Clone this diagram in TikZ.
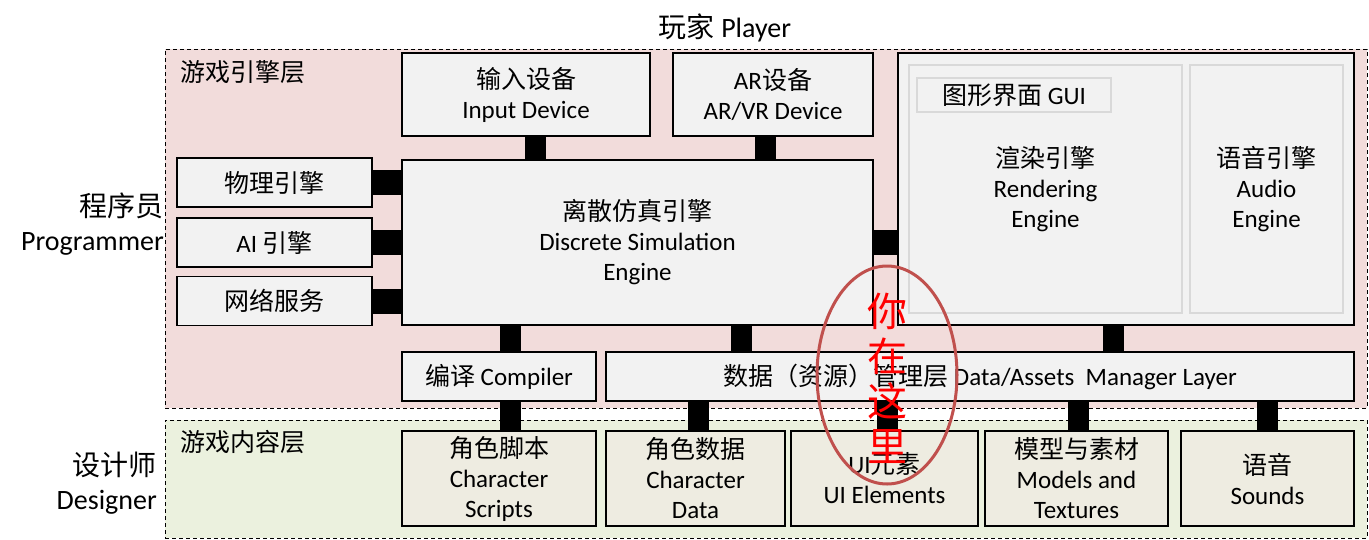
\documentclass[tikz,border=0pt]{standalone}
\usepackage{fontspec}
\setmainfont{Carlito}
\newfontfamily\zhfont{Noto Sans CJK SC}
\newcommand{\zh}[1]{{\zhfont #1}}
\usetikzlibrary{shapes.geometric}
\definecolor{enginebg}{HTML}{F2DCDB}
\definecolor{contentbg}{HTML}{EBF1DE}
\definecolor{boxfill}{HTML}{F2F2F2}
\definecolor{assetfill}{HTML}{EEECE1}
\definecolor{softline}{HTML}{D9D9D9}
\definecolor{markred}{HTML}{C0504D}

\begin{document}
\begin{tikzpicture}[
    x=1pt, y=-1pt,
    every node/.style={font=\fontsize{25}{30}\selectfont, align=center, inner sep=0pt},
    layer/.style={draw, dash pattern=on 4pt off 3pt, line width=0.8pt},
    box/.style={draw, line width=1.2pt, fill=boxfill},
    asset/.style={box, fill=assetfill},
    soft/.style={draw=softline, line width=1.2pt, fill=boxfill},
    link/.style={line width=21pt},
    sidelink/.style={line width=25pt},
    side/.style={font=\fontsize{28}{34}\selectfont, align=right, anchor=east}
  ]
  \useasboundingbox (0,0) rectangle (1369,539);
  % layers
  \node[layer, fill=enginebg, minimum width=1202, minimum height=359] (engine) at (766,228.5) {};
  \node[layer, fill=contentbg, minimum width=1202, minimum height=118] (content) at (766,479) {};
  \node[anchor=west] (enginelbl) at (180,72) {\zh{游戏引擎层}};
  \node[anchor=west] (contentlbl) at (180,442) {\zh{游戏内容层}};
  \node[font=\fontsize{28}{34}\selectfont] (player) at (725,28) {\zh{玩家} Player};
  \node[side] (prog) at (164,224) {\zh{程序员}\\Programmer};
  \node[side] (design) at (157,483) {\zh{设计师}\\Designer};

  % engine boxes
  \node[box, minimum width=248, minimum height=83] (input) at (526,94.5) {\zh{输入设备}\\Input Device};
  \node[box, minimum width=200, minimum height=83] (arvr) at (773,94.5) {AR\zh{设备}\\AR/VR Device};
  \node[box, minimum width=471, minimum height=165] (sim) at (637.5,242.5) {\zh{离散仿真引擎}\\Discrete Simulation\\Engine};
  \node[box, minimum width=456, minimum height=272] (media) at (1126,189) {};
  \node[soft, minimum width=273, minimum height=248] (render) at (1045.5,189) {\zh{渲染引擎}\\Rendering\\Engine};
  \node[soft, minimum width=153, minimum height=248] (audio) at (1266.5,189) {\zh{语音引擎}\\Audio\\Engine};
  \node[soft, minimum width=194, minimum height=34] (gui) at (1014,95) {\zh{图形界面} GUI};
  \node[box, minimum width=194, minimum height=49] (compiler) at (499,376.5) {\zh{编译} Compiler};
  \node[box, minimum width=748, minimum height=49] (assets) at (980,376.5) {\zh{数据（资源）管理层} Data/Assets\ \ Manager Layer};

  \foreach \name/\y/\txt in {phys/182.5/\zh{物理引擎}, ai/242.5/AI \zh{引擎}, net/301/\zh{网络服务}}
    {
      \node[box, minimum width=195, minimum height=49] (\name) at (274.5,\y) {\txt};
      \draw[sidelink] (\name.east) -- (\name.east -| sim.west);
    };
  \draw[sidelink] (sim.east) -- (sim.east -| media.west);

  % content boxes
  \foreach \name/\x/\w/\txt in {scripts/499/194/{\zh{角色脚本}\\Character\\Scripts},
      chardata/695.5/179/{\zh{角色数据}\\Character\\Data},
      ui/884.5/187/{UI\zh{元素}\\UI Elements},
      models/1076.5/183/{\zh{模型与素材}\\Models and\\Textures},
      sounds/1267.5/173/{\zh{语音}\\Sounds}}
    {
      \node[asset, minimum width=\w, minimum height=95] (\name) at (\x,478.5) {\txt};
    };

  % vertical links
  \foreach \from/\to/\dx in {input/sim/9, arvr/sim/-8, sim/compiler/-127, sim/assets/103.5,
      media/assets/-13, compiler/scripts/11.5, assets/chardata/-281.5, assets/ui/-93,
      assets/models/98, assets/sounds/287}
    {
      \draw[link] (\from.south) ++(\dx,0) coordinate (p) -- (p |- \to.north);
    };

  % you are here
  \node[draw=markred, line width=3pt, ellipse, minimum width=140, minimum height=218] (here) at (887,375) {};
  \node[text=red, font=\zhfont\fontsize{40}{45}\selectfont] (heretxt) at (887,378) {你\\在\\这\\里};
\end{tikzpicture}
\end{document}
